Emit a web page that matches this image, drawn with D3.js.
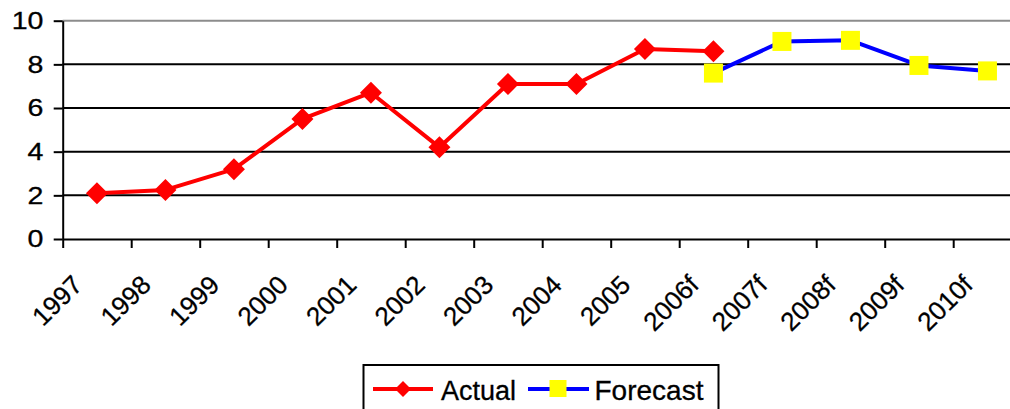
<!DOCTYPE html>
<html>
<head>
<meta charset="utf-8">
<script src="https://cdn.jsdelivr.net/npm/d3@7"></script>
<style>
  html, body { margin: 0; padding: 0; background: #fff; }
  svg { display: block; font-family: "Liberation Sans", Arial, sans-serif; }
  text { stroke: #000; stroke-width: 0.3px; }
</style>
</head>
<body>
<svg id="chart" width="1010" height="409"></svg>
<script>
// Categories along the x axis
const years = ["1997", "1998", "1999", "2000", "2001", "2002", "2003",
               "2004", "2005", "2006f", "2007f", "2008f", "2009f", "2010f"];
// Actual values (through 2006f)
const actual = [2.1, 2.25, 3.2, 5.5, 6.7, 4.2, 7.1, 7.1, 8.7, 8.6,
                null, null, null, null];
// Forecast values (from 2006f)
const forecast = [null, null, null, null, null, null, null, null, null,
                  7.6, 9.05, 9.1, 7.95, 7.7];
// Y axis ticks
const yTicks = [0, 2, 4, 6, 8, 10];

const svg = d3.select("#chart");

const plot = { left: 62.7, top: 20.7, bottom: 239, bandStep: 68.5 };
plot.right = plot.left + plot.bandStep * years.length;

const x = d3.scaleBand().domain(years).range([plot.left, plot.right]).padding(0);
const xEdge = d3.scaleLinear().domain([0, years.length]).range([plot.left, plot.right]);
const y = d3.scaleLinear().domain([0, 10]).range([plot.bottom, plot.top]);
const cx = d => x(d) + x.bandwidth() / 2;

// Horizontal gridlines
svg.append("g")
  .selectAll("line")
  .data(yTicks.filter(t => t > 0))
  .join("line")
  .attr("x1", plot.left).attr("x2", plot.right)
  .attr("y1", d => y(d)).attr("y2", d => y(d))
  .attr("stroke", d => d === 10 ? "#8c8c8c" : "#000")
  .attr("stroke-width", 2);

// Y axis
const yAxis = svg.append("g")
  .attr("transform", `translate(${plot.left},0)`)
  .call(d3.axisLeft(y).tickValues(yTicks).tickSizeInner(9).tickSizeOuter(0).tickFormat(""));
yAxis.select(".domain").attr("stroke", "#000").attr("stroke-width", 2);
yAxis.selectAll(".tick line").attr("stroke", "#000").attr("stroke-width", 2);

svg.append("g")
  .selectAll("text")
  .data(yTicks)
  .join("text")
  .attr("transform", d => `translate(43.5,${y(d)}) scale(1.19,1)`)
  .attr("text-anchor", "end")
  .attr("dy", "0.35em")
  .attr("font-size", 24)
  .attr("fill", "#000")
  .text(d => d);

// X axis with ticks on category boundaries
const xAxis = svg.append("g")
  .attr("transform", `translate(0,${plot.bottom})`)
  .call(d3.axisBottom(xEdge).tickValues(d3.range(0, years.length + 1))
    .tickSizeInner(9).tickSizeOuter(0).tickFormat(""));
xAxis.select(".domain").attr("stroke", "#000").attr("stroke-width", 2);
xAxis.selectAll(".tick line").attr("stroke", "#000").attr("stroke-width", 2);

svg.append("g")
  .selectAll("text")
  .data(years)
  .join("text")
  .attr("transform", d => `translate(${cx(d) - 19.5},280) rotate(-45)`)
  .attr("text-anchor", "end")
  .attr("dy", "0.35em")
  .attr("font-size", 26)
  .attr("fill", "#000")
  .text(d => d);

// Series lines
const line = d3.line()
  .defined(d => d.v !== null)
  .x(d => cx(d.k))
  .y(d => y(d.v));

const actualPts = years.map((k, i) => ({ k, v: actual[i] }));
const forecastPts = years.map((k, i) => ({ k, v: forecast[i] }));

svg.append("path")
  .datum(actualPts)
  .attr("d", line)
  .attr("fill", "none")
  .attr("stroke", "#ff0000")
  .attr("stroke-width", 4)
  .attr("stroke-linejoin", "round");

svg.append("g")
  .selectAll("path")
  .data(actualPts.filter(d => d.v !== null))
  .join("path")
  .attr("transform", d => `translate(${cx(d.k)},${y(d.v)})`)
  .attr("d", "M0,-11L11,0L0,11L-11,0Z")
  .attr("fill", "#ff0000");

svg.append("path")
  .datum(forecastPts)
  .attr("d", line)
  .attr("fill", "none")
  .attr("stroke", "#0000ff")
  .attr("stroke-width", 4)
  .attr("stroke-linejoin", "round");

svg.append("g")
  .selectAll("rect")
  .data(forecastPts.filter(d => d.v !== null))
  .join("rect")
  .attr("x", d => cx(d.k) - 9.5)
  .attr("y", d => y(d.v) - 9.5)
  .attr("width", 19)
  .attr("height", 19)
  .attr("fill", "#ffff00");

// Legend
const legend = svg.append("g");
legend.append("rect")
  .attr("x", 363.5).attr("y", 365)
  .attr("width", 355).attr("height", 60)
  .attr("fill", "#fff")
  .attr("stroke", "#000")
  .attr("stroke-width", 2);

legend.append("line")
  .attr("x1", 373).attr("x2", 433).attr("y1", 389).attr("y2", 389)
  .attr("stroke", "#ff0000").attr("stroke-width", 4);
legend.append("path")
  .attr("transform", "translate(403,389)")
  .attr("d", "M0,-8L8,0L0,8L-8,0Z")
  .attr("fill", "#ff0000");
legend.append("text")
  .attr("x", 441).attr("y", 399.5)
  .attr("font-size", 27)
  .attr("fill", "#000")
  .text("Actual");

legend.append("line")
  .attr("x1", 528).attr("x2", 589).attr("y1", 389).attr("y2", 389)
  .attr("stroke", "#0000ff").attr("stroke-width", 4);
legend.append("rect")
  .attr("x", 549.5).attr("y", 380).attr("width", 17).attr("height", 17)
  .attr("fill", "#ffff00");
legend.append("text")
  .attr("x", 594.5).attr("y", 399.5)
  .attr("font-size", 28)
  .attr("fill", "#000")
  .text("Forecast");
</script>
</body>
</html>
